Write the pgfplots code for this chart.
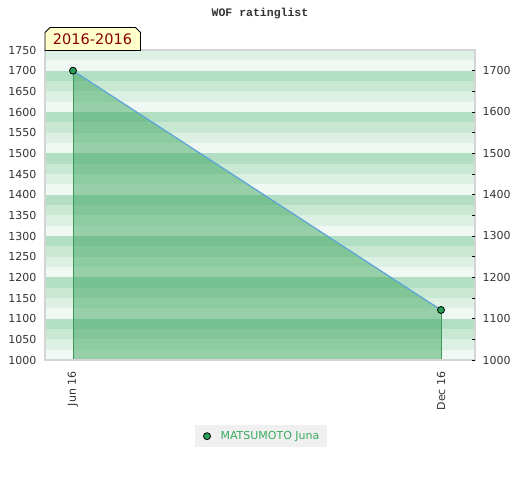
\documentclass[border=0pt]{standalone}
\usepackage{fontspec}
\setmainfont{DejaVu Sans}
\newfontfamily\titlefont{Liberation Mono}
\usepackage{pgfplots}
\pgfplotsset{compat=1.18}
\definecolor{sA}{HTML}{B2DFC3}
\definecolor{sB}{HTML}{C8E8D4}
\definecolor{sC}{HTML}{DCF0E3}
\definecolor{sD}{HTML}{EFF8F2}
\definecolor{areaC}{HTML}{2E9E50}
\definecolor{vlineC}{HTML}{3A9A5A}
\definecolor{lineC}{HTML}{5BA3D8}
\definecolor{markC}{HTML}{2A9F58}
\definecolor{bordC}{HTML}{D4D4D4}
\definecolor{tickC}{HTML}{333333}
\definecolor{legG}{HTML}{F0F0F0}
\definecolor{legT}{HTML}{3AAA60}
\definecolor{boxY}{HTML}{FFFFCC}
\definecolor{boxT}{HTML}{8B0000}
\newcommand\tickfont{\fontsize{11bp}{13bp}\selectfont}
\newcommand\band[3]{\fill[#3] (axis cs:-2,#1) rectangle (axis cs:9,#2);}
\begin{document}
\begin{tikzpicture}[x=1bp,y=1bp]
\path[use as bounding box] (0,0) rectangle (520,480);
\begin{axis}[
  at={(45bp,120bp)}, anchor=south west,
  scale only axis, width=430bp, height=310bp,
  xmin=-0.4565, xmax=6.554, ymin=1000, ymax=1750,
  xtick={0,6}, xticklabels={Jun 16,Dec 16},
  xticklabel style={rotate=90, anchor=east, font=\tickfont, text=tickC},
  xticklabel shift=8bp,
  ytick={1000,1050,...,1750},
  yticklabel style={font=\tickfont, text=tickC},
  yticklabel shift=5bp,
  /pgf/number format/1000 sep={},
  /pgf/number format/assume math mode=true,
  tick style={draw=none},
  axis line style={draw=bordC, line width=1.5bp},
  axis on top,
  legend style={at={(axis description cs:0.5023,-0.2458)}, anchor=center,
    draw=none, fill=legG, inner xsep=5.5bp, inner ysep=4.3bp,
    font=\tickfont, text=legT},
  legend image code/.code={\draw[#1] plot coordinates {(6.2bp,0bp)}; \path (0bp,0bp) (17.5bp,0bp);},
]
\band{1000}{1025}{sD}\band{1025}{1050}{sC}\band{1050}{1075}{sB}\band{1075}{1100}{sA}
\band{1100}{1125}{sD}\band{1125}{1150}{sC}\band{1150}{1175}{sB}\band{1175}{1200}{sA}
\band{1200}{1225}{sD}\band{1225}{1250}{sC}\band{1250}{1275}{sB}\band{1275}{1300}{sA}
\band{1300}{1325}{sD}\band{1325}{1350}{sC}\band{1350}{1375}{sB}\band{1375}{1400}{sA}
\band{1400}{1425}{sD}\band{1425}{1450}{sC}\band{1450}{1475}{sB}\band{1475}{1500}{sA}
\band{1500}{1525}{sD}\band{1525}{1550}{sC}\band{1550}{1575}{sB}\band{1575}{1600}{sA}
\band{1600}{1625}{sD}\band{1625}{1650}{sC}\band{1650}{1675}{sB}\band{1675}{1700}{sA}
\band{1700}{1725}{sD}\band{1725}{1750}{sC}
\addplot[draw=none, fill=areaC, fill opacity=0.45, forget plot] coordinates {(0,1000) (0,1700) (6,1121) (6,1000)} -- cycle;
\addplot[vlineC, line width=1bp, forget plot] coordinates {(0,1000) (0,1700)};
\addplot[vlineC, line width=1bp, forget plot] coordinates {(6,1000) (6,1121)};
\addplot[lineC, line width=1.2bp, forget plot] coordinates {(0,1700) (6,1121)};
\addplot[only marks, mark=*, mark size=3.5bp, mark options={fill=markC, draw=black, line width=0.8bp}] coordinates {(0,1700) (6,1121)};
\addlegendentry{MATSUMOTO Juna}
\end{axis}
\begin{axis}[
  at={(45bp,120bp)}, anchor=south west,
  scale only axis, width=430bp, height=310bp,
  xmin=-0.4565, xmax=6.554, ymin=1000, ymax=1750,
  axis x line=none, axis y line*=right,
  axis line style={draw=none},
  ytick={1000,1100,...,1700},
  minor ytick={1050,1150,...,1650},
  tick align=inside,
  major tick length=3bp, minor tick length=3bp,
  ytick style={draw=black, line width=0.8bp},
  minor tick style={draw=black, line width=0.8bp},
  yticklabel style={font=\tickfont, text=tickC},
  yticklabel shift=4bp,
  /pgf/number format/1000 sep={},
  /pgf/number format/assume math mode=true,
]
\addplot[draw=none] coordinates {(0,1000)};
\end{axis}
\draw[fill=boxY, line width=0.8bp, line join=miter] (45,429.5) -- (45,447.5) -- (50,452.5) -- (135.5,452.5) -- (140.5,447.5) -- (140.5,429.5) -- cycle;
\node[text=boxT, font=\fontsize{14.5bp}{16bp}\selectfont, inner sep=0pt] at (92.5,440.3) {2016-2016};
\node[text=tickC, font=\titlefont\fontsize{11.5bp}{13bp}\selectfont\bfseries, anchor=base, inner sep=0pt] at (260,463.3) {WOF ratinglist};
\end{tikzpicture}
\end{document}
